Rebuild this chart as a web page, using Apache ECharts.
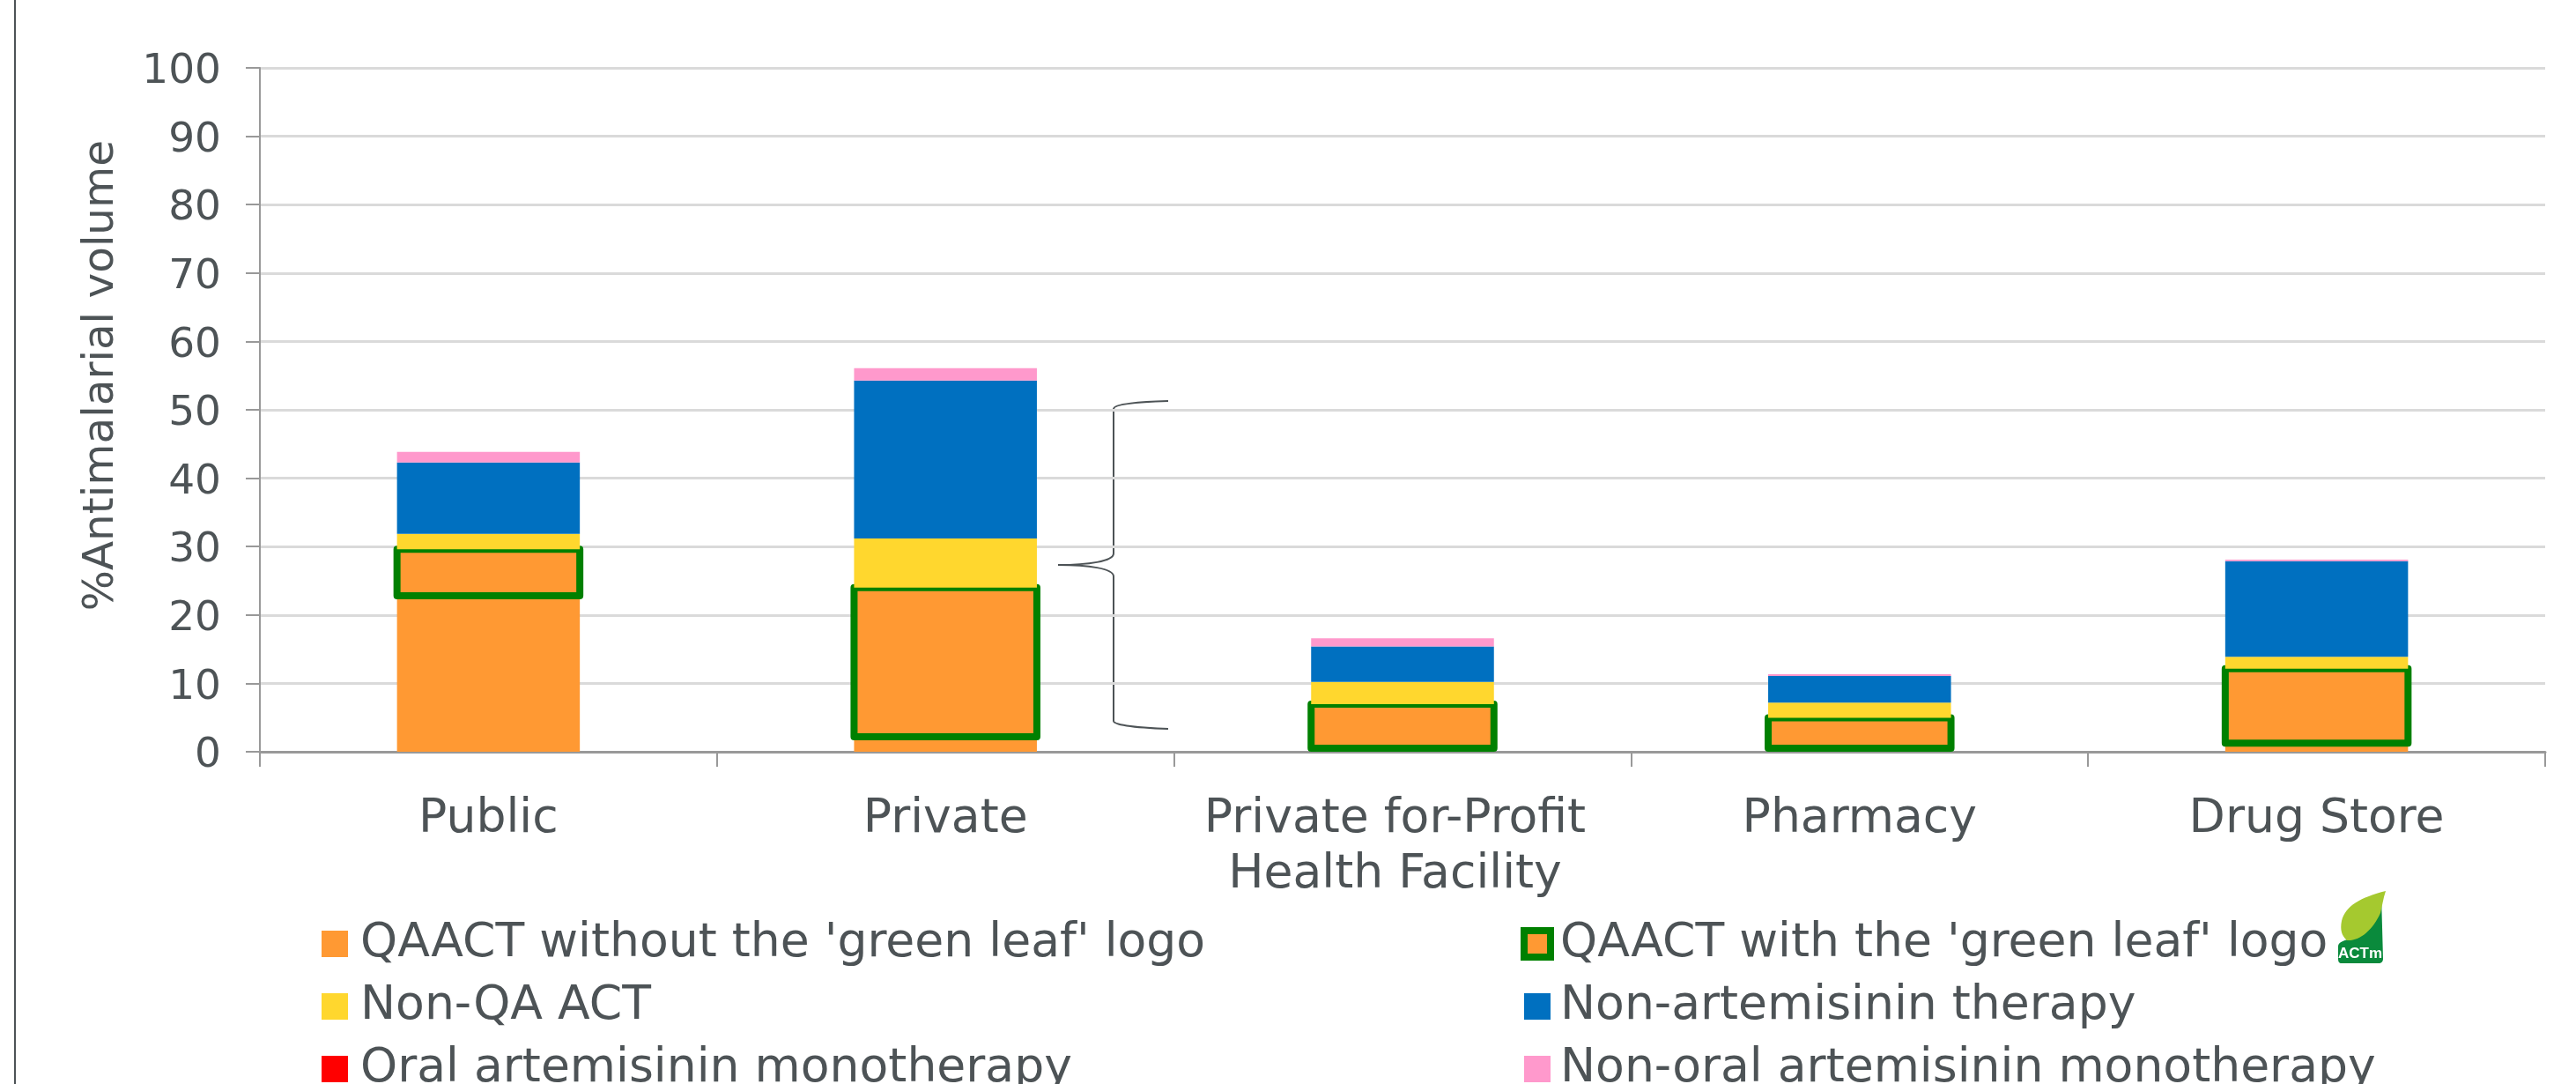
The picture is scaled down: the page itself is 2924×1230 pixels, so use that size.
<!DOCTYPE html>
<html><head><meta charset="utf-8">
<style>html,body{margin:0;padding:0;background:#fff;overflow:hidden}#c{width:2924px;height:1230px}</style>
<script src="https://cdn.jsdelivr.net/npm/echarts@6/dist/echarts.min.js"></script>
</head><body><div id="c"></div>
<script>
const categories = ['Public','Private','Private for-Profit\nHealth Facility','Pharmacy','Drug Store'];
const noLogo   = [22.8, 2.2, 0.5, 0.5, 1.25];
const withLogo = [6.8, 21.8, 6.45, 4.47, 10.9];
const nonQA    = [2.25, 7.2, 3.25, 2.2, 1.72];
const oralMono = [0, 0, 0, 0, 0];
const nonArt   = [10.45, 23.1, 5.2, 3.91, 14];
const nonOral  = [1.55, 1.8, 1.2, 0.25, 0.23];
const yTicks = {min:0, max:100, interval:10};
const N = {a:"QAACT without the 'green leaf' logo", b:"QAACT with the 'green leaf' logo", c:'Non-QA ACT', d:'Non-artemisinin therapy', e:'Oral artemisinin monotherapy', f:'Non-oral artemisinin monotherapy'};

const TXT = '#4d5356', FONT = 'DejaVu Sans', BAR_SHARE = 0.4;
const bar = (name,data,color,z) => ({name,type:'bar',stack:'t',z,data,barWidth:(BAR_SHARE*100)+'%',itemStyle:{color},animation:false,silent:true});
const legendText = {color:TXT,fontFamily:FONT,fontSize:53.6,lineHeight:50,padding:[14,0,0,9]};
const legendBase = {orient:'vertical',top:1039,height:400,itemWidth:30,itemHeight:30,itemGap:7,padding:0,icon:'rect',selectedMode:false};

echarts.graphic.registerShape('braceShape', echarts.graphic.extendPath('M1326 455C1295 456 1264 458 1264 464L1264 628C1264 637 1235 641 1201 641C1235 641 1264 645 1264 654L1264 818C1264 823 1295 826 1326 827'));
echarts.graphic.registerShape('leafBase', echarts.graphic.extendPath('M2654 1074C2654 1068 2662 1068 2668 1064C2682 1056 2696 1040 2703 1016L2705 1088C2705 1091 2703 1093 2700 1093L2658 1093C2655 1093 2654 1091 2654 1088Z'));
echarts.graphic.registerShape('leafTop', echarts.graphic.extendPath('M2708 1011C2680 1018 2662 1028 2658 1045C2656 1055 2658 1062 2664 1067C2678 1068 2693 1056 2702 1036C2704 1028 2705 1020 2708 1011Z'));

const outlineData = categories.map((c,i)=>[i, noLogo[i], noLogo[i]+withLogo[i]]);

const chart = echarts.init(document.getElementById('c'),null,{renderer:'canvas'});
chart.setOption({
  animation:false, backgroundColor:'#fff',
  grid:{left:295,right:35,top:77,bottom:377},
  legend:[
    Object.assign({},legendBase,{left:365,textStyle:legendText,data:[N.a,N.c,N.e]}),
    Object.assign({},legendBase,{left:1726,textStyle:Object.assign({},legendText,{padding:[14,0,0,6]}),
      data:[{name:N.b,itemStyle:{color:'#ff9933',borderColor:'#008000',borderWidth:8}},N.d,N.f]})
  ],
  xAxis:{type:'category',data:categories,
    axisLine:{lineStyle:{color:'#999',width:3}},
    axisTick:{show:true,length:17,lineStyle:{color:'#999',width:2}},
    axisLabel:{color:TXT,fontFamily:FONT,fontSize:53.6,lineHeight:63,margin:46,interval:0,
      formatter:v=>v.includes('\n')?v.split('\n').map(s=>'{off|'+s+'}').join('\n'):v,
      rich:{off:{color:TXT,fontFamily:FONT,fontSize:53.6,lineHeight:63,padding:[0,17,0,0]}}},
    splitLine:{show:false}},
  yAxis:{type:'value',min:yTicks.min,max:yTicks.max,interval:yTicks.interval,
    name:'%Antimalarial volume',nameLocation:'middle',nameRotate:90,nameGap:155,
    nameTextStyle:{color:TXT,fontFamily:FONT,fontSize:48.5,padding:[0,0,0,78]},
    axisLine:{show:true,lineStyle:{color:'#999',width:2}},
    axisTick:{show:true,length:16,lineStyle:{color:'#999',width:2}},
    axisLabel:{color:TXT,fontFamily:FONT,fontSize:47,margin:44,verticalAlign:'top',lineHeight:10},
    splitLine:{lineStyle:{color:'#dadada',width:3}}},
  series:[
    bar(N.a,noLogo,'#ff9933',2),
    bar(N.b,withLogo,'#ff9933',2),
    {type:'custom',z:3,silent:true,animation:false,clip:false,data:outlineData,encode:{x:0,y:[1,2]},
      renderItem:(params,api)=>{
        const i=api.value(0), lo=api.coord([i,api.value(1)]), hi=api.coord([i,api.value(2)]);
        const w=api.size([1,0])[0]*BAR_SHARE;
        return {type:'rect',shape:{x:lo[0]-w/2,y:hi[1],width:w,height:lo[1]-hi[1]},
          style:{fill:null,stroke:'#008000',lineWidth:8,lineJoin:'round'}};
      }},
    bar(N.c,nonQA,'#ffd72e',4),
    bar(N.e,oralMono,'#ff0000',4),
    bar(N.d,nonArt,'#0070c0',4),
    bar(N.f,nonOral,'#ff99cc',4)
  ],
  graphic:[
    {type:'line',silent:true,shape:{x1:17,y1:0,x2:17,y2:1230},style:{stroke:TXT,lineWidth:2}},
    {type:'braceShape',silent:true,style:{fill:null,stroke:TXT,lineWidth:2}},
    {type:'leafBase',silent:true,style:{fill:'#0a8a3c'}},
    {type:'leafTop',silent:true,style:{fill:'#a5c92f'}},
    {type:'text',silent:true,x:2679,y:1082,style:{text:'ACTm',fill:'#fff',fontFamily:'Liberation Sans',fontWeight:'bold',fontSize:17,align:'center',verticalAlign:'middle'}}
  ]
});
</script></body></html>
